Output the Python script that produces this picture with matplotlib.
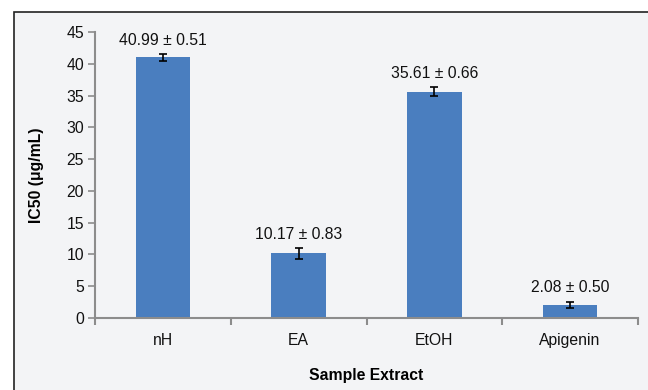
import numpy as np
import matplotlib.pyplot as plt
from matplotlib.patches import Rectangle

plt.rcParams['font.family'] = ['Liberation Sans', 'DejaVu Sans']

# data
samples = ['nH', 'EA', 'EtOH', 'Apigenin']
ic50 = [40.99, 10.17, 35.61, 2.08]
sd = [0.51, 0.83, 0.66, 0.50]

bg = '#f3f4f6'
bar_color = '#4a7ebf'
axis_grey = '#8c8c8c'
fs = 11.3

fig = plt.figure(figsize=(6.48, 3.9), dpi=100)
fig.patch.set_facecolor('white')

# grey panel with dark frame (runs off the right and bottom edges)
panel = Rectangle((13.5 / 648, -0.05), 1.1, 1 - 11.5 / 390 + 0.05,
                  transform=fig.transFigure, facecolor=bg,
                  edgecolor='#222222', linewidth=1.2, zorder=-5)
fig.patches.append(panel)

ax = fig.add_axes([95 / 648, 1 - 318 / 390, (638 - 95) / 648, (318 - 32) / 390])
ax.set_zorder(1)
ax.patch.set_alpha(0)

x = np.arange(len(samples))
ax.bar(x, ic50, width=0.4, color=bar_color, zorder=2)
ax.errorbar(x, ic50, yerr=sd, fmt='none', ecolor='black',
            elinewidth=1.2, capsize=3, capthick=1.2, zorder=3)

for xi, v, e in zip(x, ic50, sd):
    ax.text(xi, v + e + 1.0, f'{v:.2f} \u00b1 {e:.2f}', ha='center',
            va='bottom', fontsize=fs, color='#111111')

ax.set_xlim(-0.5, len(samples) - 0.5)
ax.set_ylim(0, 45)
ax.set_yticks(np.arange(0, 46, 5))
ax.set_xticks(np.arange(-0.5, len(samples), 1.0))
ax.set_xticklabels([])
ax.set_xticks(x, minor=True)
ax.set_xticklabels(samples, minor=True)
ax.tick_params(axis='x', which='minor', length=0, pad=11, labelsize=fs,
               labelcolor='#111111')
ax.tick_params(axis='x', which='major', length=5, width=1.5, color=axis_grey,
               direction='out')
ax.tick_params(axis='y', length=5, width=1.2, color=axis_grey, labelsize=fs,
               labelcolor='#111111', pad=3)

for side in ['top', 'right']:
    ax.spines[side].set_visible(False)
for side in ['left', 'bottom']:
    ax.spines[side].set_color(axis_grey)
    ax.spines[side].set_linewidth(1.5)

ax.set_ylabel('IC50 (\u03bcg/mL)', fontsize=fs, fontweight='bold', labelpad=16)
ax.set_xlabel('Sample Extract', fontsize=fs, fontweight='bold', labelpad=14)

fig.savefig('out.png', dpi=100, facecolor=fig.get_facecolor())
